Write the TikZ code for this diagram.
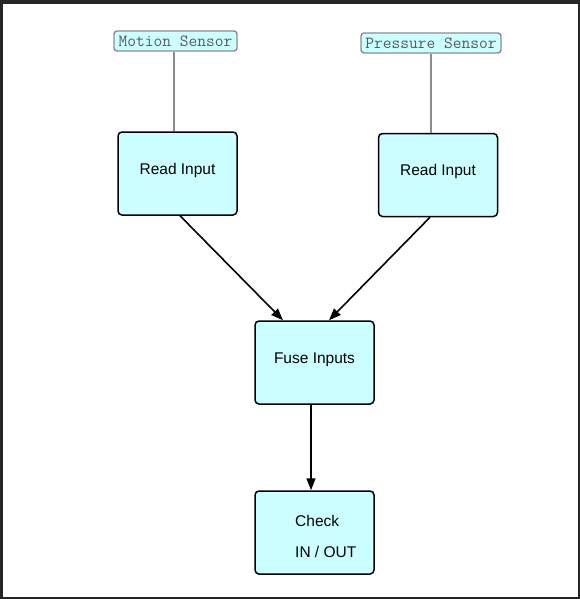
\documentclass[tikz,border=0pt]{standalone}
\usepackage{fontspec}
\setmainfont{Liberation Sans}
\newfontfamily\monofam{Latin Modern Mono}
\usetikzlibrary{arrows.meta}
\definecolor{boxfill}{HTML}{CCFFFF}
\definecolor{sensorline}{HTML}{8C8C8C}
\definecolor{sensortext}{HTML}{5A5A5A}
\definecolor{framecol}{HTML}{262626}
\tikzset{
  stepbox/.style={draw=black, line width=1.5pt, fill=boxfill, rounded corners=4pt,
    minimum width=119pt, minimum height=83pt, inner sep=0pt},
  sensorbox/.style={draw=sensorline, line width=1.4pt, fill=boxfill, rounded corners=3pt,
    minimum height=20pt, inner sep=0pt, text=sensortext,
    font=\monofam\fontsize{17}{17}\selectfont},
  steptext/.style={inner sep=0pt, font=\fontsize{15.5}{18}\selectfont, text=black},
  feed/.style={draw=sensorline, line width=2pt},
  flow/.style={draw=black, line width=1.6pt, -{Triangle[length=12pt,width=9pt]}}
}
\begin{document}
\begin{tikzpicture}[x=1pt,y=-1pt]
  % canvas and window frame
  \fill[white] (0,0) rectangle (580,599);
  \useasboundingbox (0,0) rectangle (580,599);
  \fill[framecol] (0,0) rectangle (580,4);
  \fill[framecol] (0,0) rectangle (3,599);
  \fill[framecol] (577.5,0) rectangle (580,599);
  \fill[framecol] (0,597) rectangle (580,599);

  % sensors
  \node[sensorbox, minimum width=123pt] (motion) at (175.5,41) {Motion Sensor};
  \node[sensorbox, minimum width=140pt] (pressure) at (431,43) {Pressure Sensor};

  % processing steps
  \node[stepbox] (readA) at (177.5,173.5) {};
  \node[stepbox] (readB) at (438,175) {};
  \node[stepbox] (fuse) at (314.5,362.5) {};
  \node[stepbox] (check) at (314.5,532.5) {};

  \node[steptext] (readAtxt) at (177.5,170) {Read Input};
  \node[steptext] (readBtxt) at (438,171) {Read Input};
  \node[steptext] (fusetxt) at (314.5,360) {Fuse Inputs};
  \node[steptext, anchor=west] (checktxtA) at (295,521) {Check};
  \node[steptext, anchor=west] (checktxtB) at (295,552) {IN / OUT};

  % sensor feeds
  \draw[feed] ([xshift=-1.5pt]motion.south) -- ([xshift=-3.5pt]readA.north);
  \draw[feed] (pressure.south) -- ([xshift=-7pt]readB.north);

  % data flow
  \draw[flow] ([xshift=2.5pt]readA.south) -- ([xshift=-31.5pt]fuse.north);
  \draw[flow] ([xshift=-8pt]readB.south) -- ([xshift=14.5pt]fuse.north);
  \draw[flow] ([xshift=-3.5pt]fuse.south) -- ([xshift=-3.5pt]check.north);
\end{tikzpicture}
\end{document}
